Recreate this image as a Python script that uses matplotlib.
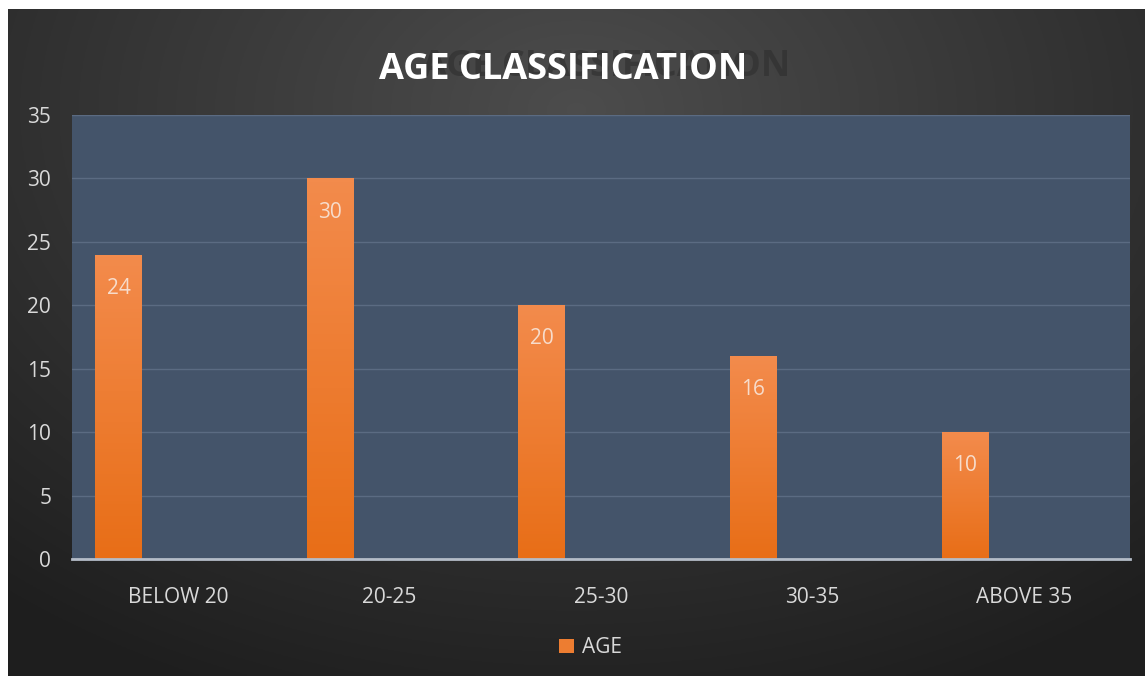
import numpy as np
import matplotlib
matplotlib.use("Agg")
import matplotlib.pyplot as plt

categories = ["BELOW 20", "20-25", "25-30", "30-35", "ABOVE 35"]
age_counts = [24, 30, 20, 16, 10]
y_ticks = [0, 5, 10, 15, 20, 25, 30, 35]

plt.rcParams['font.family'] = ['Open Sans', 'DejaVu Sans']

fig = plt.figure(figsize=(11.45, 6.76), dpi=100, facecolor='white')

# dark radial background, white strip left and top like the screenshot
bg = fig.add_axes([8 / 1145, 0, 1 - 8 / 1145, 1 - 9 / 676], zorder=0)
yy, xx = np.mgrid[0:1:300j, 0:1:500j]
r = np.sqrt(((xx - 0.5) * 1.2) ** 2 + ((yy - 0.15) * 1.0) ** 2)
shade = np.clip(0.30 - 0.19 * r, 0.12, 0.30)
bg.imshow(np.dstack([shade, shade, shade]), aspect='auto', extent=(0, 1, 1, 0))
bg.set_axis_off()

ax = fig.add_axes([72 / 1145, 1 - 559 / 676, 1058 / 1145, 444 / 676], zorder=1)
ax.set_facecolor('#44546a')
x = np.arange(len(categories))
bars = ax.bar(x - 0.28, age_counts, width=0.22, color='#ed7d31', zorder=3)

# orange gradient in each bar
grad = np.linspace(0, 1, 100).reshape(-1, 1)
cmap = matplotlib.colors.LinearSegmentedColormap.from_list('o', ['#e86e17', '#f38b4c'])
for b in bars:
    im = ax.imshow(grad, cmap=cmap, aspect='auto', origin='lower',
                   extent=(b.get_x(), b.get_x() + b.get_width(), 0, b.get_height()),
                   zorder=3)
    im.set_clip_path(b)

for xi, v in zip(x, age_counts):
    ax.text(xi - 0.28, v - 2.65, str(v), ha='center', va='center',
            color='#f7dccb', fontsize=15, zorder=4)

ax.set_xlim(-0.5, len(categories) - 0.5)
ax.set_ylim(0, 35)
ax.set_yticks(y_ticks)
ax.set_xticks(x)
ax.set_xticklabels(categories)
ax.tick_params(axis='y', colors='#d9d9d9', labelsize=15, length=0, pad=15)
ax.tick_params(axis='x', colors='#d9d9d9', labelsize=15, length=0, pad=20)
for lbl in ax.get_yticklabels():
    lbl.set_horizontalalignment('right')
ax.grid(axis='y', color='#5b6b82', linewidth=1, zorder=1)
for s in ['top', 'right', 'left']:
    ax.spines[s].set_visible(False)
ax.spines['bottom'].set_color('#b4bcc8')
ax.spines['bottom'].set_linewidth(2)
ax.spines['bottom'].set_zorder(5)

# title with the faint shadow copy behind it
fig.text(606 / 1145, 1 - 67 / 676, "AGE CLASSIFICATION", ha='center', va='center',
         color='#2e2e2e', fontsize=26, fontweight='bold', alpha=0.6, zorder=2)
fig.text(563 / 1145, 1 - 70 / 676, "AGE CLASSIFICATION", ha='center', va='center',
         color='white', fontsize=26, fontweight='bold', zorder=3)

leg = ax.legend(bars[:1], ["AGE"], loc='center', bbox_to_anchor=(0.49, -0.2),
                frameon=False, fontsize=15, handlelength=0.7, handleheight=0.7,
                handletextpad=0.4)
for t in leg.get_texts():
    t.set_color('#d9d9d9')

fig.savefig("out.png", dpi=100, facecolor=fig.get_facecolor())
